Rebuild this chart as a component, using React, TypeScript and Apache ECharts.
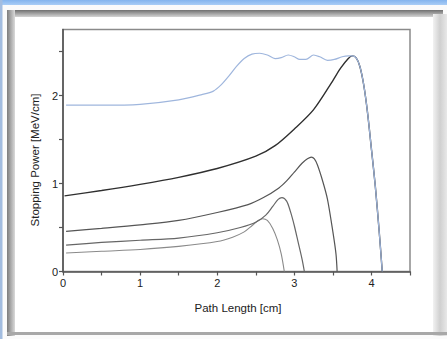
import React, { useEffect, useRef } from "react";
import * as echarts from "echarts";

// Spread-out Bragg peak (blue) and individual Bragg curves
const sobpX = [0.04, 0.5, 1.0, 1.5, 1.8, 1.95, 2.05, 2.15, 2.25, 2.35, 2.45, 2.55, 2.65, 2.75, 2.83, 2.92, 3.0, 3.07, 3.15, 3.25, 3.33, 3.43, 3.52, 3.62, 3.7, 3.75, 3.8, 3.85, 3.9, 3.95, 4.0, 4.05, 4.1, 4.14];
const sobpY = [1.89, 1.89, 1.9, 1.95, 2.01, 2.05, 2.12, 2.22, 2.33, 2.42, 2.47, 2.48, 2.46, 2.42, 2.43, 2.46, 2.44, 2.41, 2.41, 2.46, 2.44, 2.4, 2.41, 2.44, 2.45, 2.45, 2.43, 2.33, 2.12, 1.8, 1.39, 0.97, 0.46, 0];

const peak1X = [0.02, 0.5, 1.0, 1.5, 2.0, 2.5, 2.75, 3.0, 3.25, 3.5, 3.6, 3.7, 3.75, 3.8, 3.85, 3.9, 3.95, 4.0, 4.05, 4.1, 4.14];
const peak1Y = [0.86, 0.92, 0.99, 1.07, 1.17, 1.31, 1.43, 1.62, 1.84, 2.17, 2.31, 2.42, 2.45, 2.43, 2.33, 2.12, 1.8, 1.39, 0.97, 0.46, 0];

const peak2X = [0.04, 0.5, 1.0, 1.5, 2.0, 2.4, 2.6, 2.8, 2.9, 3.0, 3.1, 3.17, 3.22, 3.26, 3.3, 3.37, 3.43, 3.5, 3.54, 3.555];
const peak2Y = [0.456, 0.49, 0.53, 0.58, 0.67, 0.76, 0.84, 0.95, 1.03, 1.13, 1.23, 1.28, 1.3, 1.28, 1.21, 1.02, 0.82, 0.45, 0.2, 0];

const peak3X = [0.04, 0.5, 1.0, 1.5, 2.0, 2.3, 2.5, 2.63, 2.72, 2.79, 2.84, 2.9, 2.95, 3.0, 3.05, 3.1, 3.13];
const peak3Y = [0.3, 0.33, 0.355, 0.38, 0.44, 0.5, 0.56, 0.64, 0.74, 0.82, 0.84, 0.8, 0.68, 0.52, 0.33, 0.14, 0];

const peak4X = [0.04, 0.5, 1.0, 1.5, 2.0, 2.2, 2.35, 2.45, 2.53, 2.59, 2.65, 2.72, 2.78, 2.83, 2.87];
const peak4Y = [0.21, 0.23, 0.25, 0.285, 0.34, 0.39, 0.45, 0.52, 0.58, 0.6, 0.58, 0.49, 0.36, 0.2, 0];

const xMajorTicks = [0, 1, 2, 3, 4];
const xAllTicks = [0, 0.5, 1, 1.5, 2, 2.5, 3, 3.5, 4, 4.5];
const yMajorTicks = [0, 1, 2];
const yAllTicks = [0, 0.5, 1, 1.5, 2, 2.5];

const xTitle = "Path Length [cm]";
const yTitle = "Stopping Power [MeV/cm]";

const pairs = (xs: number[], ys: number[]) => xs.map((x, i) => [x, ys[i]]);

const FONT = "'Liberation Sans', Arial, sans-serif";

export default function App() {
  const ref = useRef<HTMLDivElement>(null);
  useEffect(() => {
    if (!ref.current) return;
    const chart = echarts.init(ref.current, undefined, { renderer: "svg" });
    const line = (xs: number[], ys: number[], color: string, width: number, z: number) => ({
      type: "line",
      data: pairs(xs, ys),
      showSymbol: false,
      smooth: 0.3,
      lineStyle: { color, width },
      z,
    });
    chart.setOption({
      animation: false,
      backgroundColor: "#ffffff",
      grid: {
        left: 63,
        top: 29.5,
        right: 37,
        bottom: 67.5,
        show: true,
        borderColor: "#8a8a8a",
        borderWidth: 1.5,
        backgroundColor: "transparent",
      },
      xAxis: {
        type: "value",
        min: 0,
        max: 4.5,
        axisLine: { show: true, onZero: false, lineStyle: { color: "#555", width: 1.6 } },
        axisTick: { show: true, length: 4, customValues: xAllTicks, lineStyle: { color: "#555", width: 1.2 } },
        axisLabel: { customValues: xMajorTicks, color: "#222", fontSize: 11, fontFamily: FONT, margin: 6 },
        splitLine: { show: false },
      },
      yAxis: {
        type: "value",
        min: 0,
        max: 2.75,
        axisLine: { show: true, onZero: false, lineStyle: { color: "#555", width: 1.6 } },
        axisTick: { show: true, length: 4, customValues: yAllTicks, lineStyle: { color: "#555", width: 1.2 } },
        axisLabel: { customValues: yMajorTicks, color: "#222", fontSize: 11, fontFamily: FONT, margin: 5 },
        splitLine: { show: false },
      },
      graphic: [
        { type: "rect", z: -10, shape: { x: 0, y: 0, width: 447, height: 339 }, style: { fill: "#fbfbfb" }, silent: true },
        {
          type: "rect", z: -9, shape: { x: 0, y: 0, width: 447, height: 5 }, silent: true,
          style: { fill: new echarts.graphic.LinearGradient(0, 0, 0, 1, [{ offset: 0, color: "#84b4ee" }, { offset: 1, color: "#a9cdf6" }]) },
        },
        { type: "rect", z: -9, shape: { x: 0, y: 0, width: 2.5, height: 339 }, style: { fill: "#a3bde0" }, silent: true },
        {
          type: "rect", z: -8, shape: { x: 7, y: 10, width: 436, height: 7 }, silent: true,
          style: { fill: new echarts.graphic.LinearGradient(0, 0, 0, 1, [{ offset: 0, color: "#6f6f6f" }, { offset: 1, color: "#d4d4d4" }]) },
        },
        {
          type: "rect", z: -8, shape: { x: 7, y: 10, width: 8, height: 326 }, silent: true,
          style: { fill: new echarts.graphic.LinearGradient(0, 0, 1, 0, [{ offset: 0, color: "#7d7d7d" }, { offset: 1, color: "#dadada" }]) },
        },
        {
          type: "rect", z: -8, shape: { x: 433, y: 14, width: 14, height: 322 }, silent: true,
          style: { fill: new echarts.graphic.LinearGradient(0, 0, 1, 0, [{ offset: 0, color: "#f2f2f2" }, { offset: 0.5, color: "#d0d0d0" }, { offset: 1, color: "#e8e8e8" }]) },
        },
        { type: "rect", z: -8, shape: { x: 7, y: 332, width: 440, height: 3 }, style: { fill: "#a8a8a8" }, silent: true },
        { type: "rect", z: -7, shape: { x: 15, y: 17, width: 418, height: 315 }, style: { fill: "#ffffff" }, silent: true },
        {
          type: "text", z: 10, x: 35, y: 160, rotation: Math.PI / 2, silent: true,
          style: { text: yTitle, fill: "#222", fontSize: 11.5, fontFamily: FONT, align: "center", verticalAlign: "middle" },
        },
        {
          type: "text", z: 10, x: 238, y: 308, silent: true,
          style: { text: xTitle, fill: "#222", fontSize: 11.5, fontFamily: FONT, align: "center", verticalAlign: "middle" },
        },
      ],
      series: [
        line(peak4X, peak4Y, "#8a8a8a", 1.1, 2),
        line(peak3X, peak3Y, "#666666", 1.2, 3),
        line(peak2X, peak2Y, "#555555", 1.2, 4),
        line(peak1X, peak1Y, "#2f2f2f", 1.4, 5),
        line(sobpX, sobpY, "#9fb6dd", 1.2, 6),
      ],
    });
    return () => chart.dispose();
  }, []);
  return (
    <div
      ref={ref}
      style={{ position: "absolute", left: 0, top: 0, width: 447, height: 339 }}
    />
  );
}
